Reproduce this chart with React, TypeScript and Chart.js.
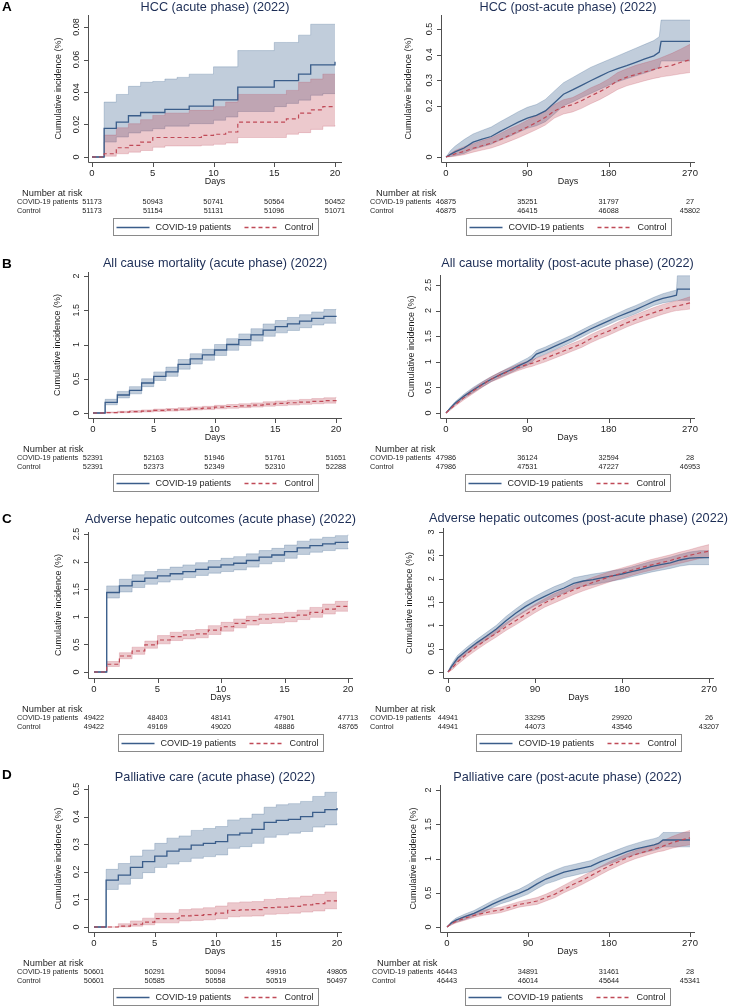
import React, { useEffect, useRef } from "react";
import { Chart, registerables } from "chart.js";
Chart.register(...registerables);

// ---------- shared axis values ----------
const ACUTE_DAYS = [0, 1, 2, 3, 4, 5, 6, 7, 8, 9, 10, 11, 12, 13, 14, 15, 16, 17, 18, 19, 20];
const ACUTE_X_TICKS = [0, 5, 10, 15, 20];
const POST_X_TICKS = [0, 90, 180, 270];

// ---------- A: HCC ----------
const HCC_AC_COVID = [0, 0.0176, 0.0215, 0.0254, 0.0274, 0.0274, 0.0293, 0.0293, 0.0313, 0.0313, 0.0352, 0.0352, 0.043, 0.043, 0.043, 0.047, 0.047, 0.051, 0.0567, 0.0567, 0.0586];
const HCC_AC_COVID_HI = [0, 0.0338, 0.0385, 0.0435, 0.046, 0.0465, 0.048, 0.049, 0.051, 0.051, 0.0555, 0.0555, 0.0655, 0.0655, 0.0655, 0.0705, 0.0705, 0.075, 0.0817, 0.0817, 0.0817];
const HCC_AC_COVID_LO = [0, 0.0092, 0.0123, 0.0148, 0.016, 0.0174, 0.019, 0.019, 0.0205, 0.0205, 0.0226, 0.0246, 0.028, 0.028, 0.028, 0.031, 0.033, 0.035, 0.038, 0.039, 0.039];
const HCC_AC_CTRL = [0, 0.002, 0.0057, 0.0072, 0.0092, 0.012, 0.012, 0.012, 0.012, 0.0133, 0.014, 0.0154, 0.0215, 0.0215, 0.0215, 0.0215, 0.0235, 0.027, 0.029, 0.031, 0.031];
const HCC_AC_CTRL_HI = [0, 0.0135, 0.018, 0.0205, 0.023, 0.0256, 0.027, 0.027, 0.0287, 0.0287, 0.031, 0.0338, 0.0385, 0.0385, 0.0385, 0.0385, 0.041, 0.046, 0.048, 0.051, 0.051];
const HCC_AC_CTRL_LO = [0, 0.0005, 0.002, 0.003, 0.004, 0.006, 0.0068, 0.0068, 0.0068, 0.0072, 0.0078, 0.0086, 0.012, 0.012, 0.012, 0.012, 0.014, 0.015, 0.017, 0.019, 0.0195];
const HCC_AC_Y_TICKS = [0, 0.02, 0.04, 0.06, 0.08];
const HCC_AC_RISK_COVID = [51173, 50943, 50741, 50564, 50452];
const HCC_AC_RISK_CTRL = [51173, 51154, 51131, 51096, 51071];

const HCC_PA_DAYS = [0, 5, 10, 20, 30, 40, 50, 60, 70, 80, 90, 100, 110, 120, 130, 140, 150, 160, 170, 180, 190, 200, 210, 220, 230, 236, 238, 250, 260, 270];
const HCC_PA_COVID = [0, 0.01, 0.02, 0.035, 0.058, 0.07, 0.08, 0.1, 0.118, 0.136, 0.152, 0.163, 0.18, 0.212, 0.245, 0.262, 0.28, 0.298, 0.315, 0.332, 0.345, 0.357, 0.37, 0.383, 0.395, 0.41, 0.452, 0.452, 0.452, 0.452];
const HCC_PA_COVID_HI = [0, 0.025, 0.042, 0.068, 0.09, 0.104, 0.117, 0.138, 0.157, 0.177, 0.194, 0.205, 0.225, 0.258, 0.29, 0.31, 0.33, 0.35, 0.365, 0.38, 0.395, 0.41, 0.425, 0.44, 0.455, 0.47, 0.535, 0.535, 0.535, 0.535];
const HCC_PA_COVID_LO = [0, 0.002, 0.006, 0.014, 0.03, 0.04, 0.05, 0.066, 0.08, 0.096, 0.112, 0.122, 0.138, 0.168, 0.2, 0.215, 0.232, 0.248, 0.264, 0.28, 0.294, 0.306, 0.317, 0.328, 0.34, 0.35, 0.375, 0.375, 0.375, 0.375];
const HCC_PA_CTRL = [0, 0.006, 0.012, 0.022, 0.034, 0.044, 0.054, 0.068, 0.084, 0.1, 0.117, 0.135, 0.155, 0.18, 0.196, 0.204, 0.22, 0.238, 0.255, 0.274, 0.298, 0.312, 0.322, 0.332, 0.342, 0.348, 0.35, 0.358, 0.37, 0.38];
const HCC_PA_CTRL_HI = [0, 0.014, 0.025, 0.04, 0.052, 0.064, 0.075, 0.092, 0.11, 0.125, 0.144, 0.162, 0.18, 0.205, 0.224, 0.232, 0.25, 0.27, 0.285, 0.305, 0.33, 0.345, 0.358, 0.368, 0.378, 0.385, 0.388, 0.405, 0.422, 0.44];
const HCC_PA_CTRL_LO = [0, 0.001, 0.003, 0.009, 0.019, 0.027, 0.035, 0.047, 0.061, 0.075, 0.091, 0.107, 0.125, 0.152, 0.168, 0.176, 0.19, 0.208, 0.224, 0.243, 0.264, 0.278, 0.288, 0.298, 0.307, 0.311, 0.313, 0.319, 0.325, 0.33];
const HCC_PA_Y_TICKS = [0, 0.2, 0.3, 0.4, 0.5];
const HCC_PA_RISK_COVID = [46875, 35251, 31797, 27];
const HCC_PA_RISK_CTRL = [46875, 46415, 46088, 45802];

// ---------- B: all cause mortality ----------
const MORT_AC_COVID = [0, 0.156, 0.263, 0.33, 0.438, 0.535, 0.6, 0.71, 0.79, 0.85, 0.92, 1.0, 1.07, 1.14, 1.21, 1.26, 1.3, 1.34, 1.38, 1.41, 1.42];
const MORT_AC_COVID_HI = [0, 0.2, 0.315, 0.385, 0.5, 0.6, 0.67, 0.78, 0.865, 0.93, 1.0, 1.085, 1.155, 1.23, 1.3, 1.35, 1.395, 1.435, 1.475, 1.51, 1.52];
const MORT_AC_COVID_LO = [0, 0.12, 0.22, 0.28, 0.385, 0.475, 0.535, 0.64, 0.715, 0.77, 0.84, 0.915, 0.985, 1.05, 1.12, 1.17, 1.205, 1.245, 1.285, 1.31, 1.32];
const MORT_AC_CTRL = [0, 0.005, 0.012, 0.02, 0.028, 0.038, 0.045, 0.055, 0.065, 0.072, 0.085, 0.095, 0.105, 0.115, 0.13, 0.14, 0.15, 0.16, 0.17, 0.18, 0.19];
const MORT_AC_CTRL_HI = [0, 0.015, 0.025, 0.035, 0.045, 0.057, 0.065, 0.077, 0.089, 0.097, 0.112, 0.124, 0.135, 0.147, 0.164, 0.175, 0.187, 0.198, 0.21, 0.222, 0.235];
const MORT_AC_CTRL_LO = [0, 0.001, 0.004, 0.009, 0.015, 0.022, 0.028, 0.036, 0.044, 0.05, 0.061, 0.069, 0.078, 0.086, 0.099, 0.108, 0.117, 0.126, 0.135, 0.144, 0.153];
const MORT_AC_Y_TICKS = [0, 0.5, 1, 1.5, 2];
const MORT_AC_RISK_COVID = [52391, 52163, 51946, 51761, 51651];
const MORT_AC_RISK_CTRL = [52391, 52373, 52349, 52310, 52288];

const MORT_PA_DAYS = [0, 5, 10, 20, 30, 40, 50, 60, 70, 80, 90, 95, 100, 110, 120, 130, 140, 150, 160, 170, 180, 190, 200, 210, 220, 230, 240, 250, 255, 256, 270];
const MORT_PA_COVID = [0, 0.1, 0.19, 0.33, 0.45, 0.56, 0.66, 0.75, 0.83, 0.92, 1.0, 1.06, 1.15, 1.22, 1.3, 1.38, 1.46, 1.55, 1.64, 1.72, 1.8, 1.88, 1.95, 2.02, 2.1, 2.18, 2.24, 2.28, 2.3, 2.42, 2.42];
const MORT_PA_COVID_HI = [0, 0.12, 0.22, 0.37, 0.5, 0.61, 0.71, 0.8, 0.89, 0.98, 1.07, 1.13, 1.22, 1.29, 1.37, 1.45, 1.53, 1.62, 1.71, 1.79, 1.87, 1.95, 2.03, 2.1, 2.18, 2.26, 2.33, 2.38, 2.4, 2.68, 2.68];
const MORT_PA_COVID_LO = [0, 0.08, 0.16, 0.29, 0.4, 0.51, 0.61, 0.7, 0.77, 0.86, 0.93, 0.99, 1.08, 1.15, 1.23, 1.31, 1.39, 1.48, 1.57, 1.65, 1.73, 1.81, 1.87, 1.94, 2.02, 2.1, 2.15, 2.18, 2.2, 2.2, 2.2];
const MORT_PA_CTRL = [0, 0.08, 0.16, 0.3, 0.43, 0.55, 0.66, 0.74, 0.82, 0.89, 0.95, 0.97, 1.0, 1.07, 1.14, 1.21, 1.28, 1.35, 1.45, 1.53, 1.6, 1.68, 1.76, 1.83, 1.9, 1.96, 2.02, 2.07, 2.09, 2.09, 2.15];
const MORT_PA_CTRL_HI = [0, 0.1, 0.19, 0.34, 0.48, 0.6, 0.71, 0.8, 0.88, 0.95, 1.01, 1.04, 1.07, 1.14, 1.22, 1.29, 1.36, 1.43, 1.53, 1.61, 1.68, 1.77, 1.85, 1.92, 1.99, 2.06, 2.12, 2.17, 2.19, 2.19, 2.27];
const MORT_PA_CTRL_LO = [0, 0.06, 0.13, 0.26, 0.38, 0.5, 0.61, 0.68, 0.76, 0.83, 0.89, 0.91, 0.94, 1.0, 1.07, 1.14, 1.21, 1.28, 1.37, 1.45, 1.52, 1.6, 1.68, 1.75, 1.81, 1.87, 1.93, 1.98, 2.0, 2.0, 2.03];
const MORT_PA_Y_TICKS = [0, 0.5, 1, 1.5, 2, 2.5];
const MORT_PA_RISK_COVID = [47986, 36124, 32594, 28];
const MORT_PA_RISK_CTRL = [47986, 47531, 47227, 46953];

// ---------- C: adverse hepatic outcomes ----------
const HEP_AC_COVID = [0, 1.44, 1.56, 1.64, 1.7, 1.74, 1.78, 1.82, 1.86, 1.9, 1.94, 1.97, 2.02, 2.08, 2.12, 2.18, 2.25, 2.29, 2.32, 2.35, 2.37];
const HEP_AC_COVID_HI = [0, 1.56, 1.68, 1.76, 1.82, 1.86, 1.9, 1.94, 1.98, 2.02, 2.06, 2.09, 2.14, 2.2, 2.24, 2.3, 2.37, 2.41, 2.44, 2.47, 2.49];
const HEP_AC_COVID_LO = [0, 1.34, 1.45, 1.53, 1.59, 1.63, 1.67, 1.71, 1.75, 1.79, 1.82, 1.85, 1.9, 1.96, 2.0, 2.06, 2.13, 2.17, 2.2, 2.23, 2.25];
const HEP_AC_CTRL = [0, 0.14, 0.29, 0.38, 0.49, 0.58, 0.64, 0.67, 0.69, 0.76, 0.82, 0.88, 0.93, 0.96, 0.97, 0.99, 1.03, 1.08, 1.14, 1.19, 1.19];
const HEP_AC_CTRL_HI = [0, 0.19, 0.35, 0.45, 0.56, 0.66, 0.72, 0.75, 0.77, 0.84, 0.9, 0.96, 1.01, 1.05, 1.06, 1.08, 1.12, 1.17, 1.23, 1.28, 1.29];
const HEP_AC_CTRL_LO = [0, 0.1, 0.24, 0.32, 0.43, 0.51, 0.57, 0.6, 0.62, 0.68, 0.74, 0.8, 0.85, 0.88, 0.89, 0.91, 0.95, 0.99, 1.05, 1.1, 1.1];
const HEP_AC_Y_TICKS = [0, 0.5, 1, 1.5, 2, 2.5];
const HEP_AC_RISK_COVID = [49422, 48403, 48141, 47901, 47713];
const HEP_AC_RISK_CTRL = [49422, 49169, 49020, 48886, 48765];

const HEP_PA_DAYS = [0, 3, 5, 10, 20, 30, 40, 50, 60, 70, 80, 90, 100, 110, 120, 130, 140, 150, 160, 170, 180, 190, 200, 210, 220, 230, 240, 250, 260, 270];
const HEP_PA_COVID = [0, 0.1, 0.16, 0.3, 0.47, 0.63, 0.77, 0.92, 1.1, 1.26, 1.4, 1.52, 1.62, 1.72, 1.8, 1.9, 1.95, 1.98, 2.02, 2.06, 2.1, 2.15, 2.2, 2.26, 2.3, 2.34, 2.4, 2.44, 2.45, 2.45];
const HEP_PA_COVID_HI = [0, 0.14, 0.21, 0.36, 0.54, 0.7, 0.85, 1.0, 1.19, 1.35, 1.5, 1.62, 1.73, 1.83, 1.91, 2.02, 2.06, 2.1, 2.13, 2.17, 2.2, 2.25, 2.31, 2.37, 2.41, 2.46, 2.52, 2.57, 2.6, 2.6];
const HEP_PA_COVID_LO = [0, 0.06, 0.11, 0.24, 0.4, 0.56, 0.69, 0.84, 1.01, 1.17, 1.3, 1.42, 1.51, 1.61, 1.69, 1.78, 1.84, 1.87, 1.91, 1.95, 1.99, 2.04, 2.09, 2.14, 2.18, 2.22, 2.27, 2.3, 2.3, 2.3];
const HEP_PA_CTRL = [0, 0.06, 0.1, 0.22, 0.4, 0.55, 0.7, 0.83, 0.97, 1.1, 1.23, 1.36, 1.48, 1.58, 1.67, 1.76, 1.84, 1.92, 1.99, 2.06, 2.12, 2.18, 2.24, 2.29, 2.34, 2.39, 2.45, 2.5, 2.55, 2.59];
const HEP_PA_CTRL_HI = [0, 0.09, 0.14, 0.28, 0.47, 0.62, 0.78, 0.91, 1.05, 1.19, 1.32, 1.45, 1.57, 1.68, 1.77, 1.86, 1.95, 2.03, 2.1, 2.17, 2.23, 2.29, 2.35, 2.41, 2.46, 2.51, 2.57, 2.62, 2.68, 2.73];
const HEP_PA_CTRL_LO = [0, 0.03, 0.06, 0.16, 0.33, 0.48, 0.62, 0.75, 0.89, 1.01, 1.14, 1.27, 1.39, 1.48, 1.57, 1.66, 1.74, 1.81, 1.88, 1.95, 2.01, 2.07, 2.13, 2.18, 2.23, 2.28, 2.33, 2.38, 2.43, 2.46];
const HEP_PA_Y_TICKS = [0, 0.5, 1, 1.5, 2, 2.5, 3];
const HEP_PA_RISK_COVID = [44941, 33295, 29920, 26];
const HEP_PA_RISK_CTRL = [44941, 44073, 43546, 43207];

// ---------- D: palliative care ----------
const PAL_AC_COVID = [0, 0.17, 0.188, 0.216, 0.237, 0.257, 0.275, 0.282, 0.297, 0.303, 0.309, 0.334, 0.34, 0.354, 0.379, 0.386, 0.39, 0.4, 0.415, 0.425, 0.431];
const PAL_AC_COVID_HI = [0, 0.209, 0.23, 0.257, 0.279, 0.303, 0.322, 0.33, 0.35, 0.357, 0.364, 0.388, 0.394, 0.409, 0.434, 0.443, 0.447, 0.455, 0.473, 0.488, 0.49];
const PAL_AC_COVID_LO = [0, 0.136, 0.155, 0.176, 0.197, 0.216, 0.228, 0.237, 0.249, 0.255, 0.261, 0.285, 0.291, 0.303, 0.325, 0.334, 0.34, 0.346, 0.362, 0.37, 0.376];
const PAL_AC_CTRL = [0, 0, 0.003, 0.01, 0.018, 0.03, 0.03, 0.04, 0.042, 0.045, 0.05, 0.06, 0.062, 0.063, 0.07, 0.072, 0.075, 0.08, 0.085, 0.095, 0.095];
const PAL_AC_CTRL_HI = [0, 0, 0.012, 0.022, 0.032, 0.05, 0.05, 0.063, 0.066, 0.07, 0.076, 0.088, 0.091, 0.092, 0.1, 0.103, 0.106, 0.112, 0.118, 0.127, 0.127];
const PAL_AC_CTRL_LO = [0, 0, 0, 0.003, 0.008, 0.015, 0.015, 0.022, 0.024, 0.026, 0.03, 0.037, 0.039, 0.04, 0.046, 0.048, 0.05, 0.054, 0.058, 0.066, 0.066];
const PAL_AC_Y_TICKS = [0, 0.1, 0.2, 0.3, 0.4, 0.5];
const PAL_AC_RISK_COVID = [50601, 50291, 50094, 49916, 49805];
const PAL_AC_RISK_CTRL = [50601, 50585, 50558, 50519, 50497];

const PAL_PA_DAYS = [0, 5, 10, 20, 30, 40, 50, 60, 70, 80, 90, 100, 110, 120, 130, 140, 150, 160, 170, 180, 190, 200, 210, 220, 230, 235, 240, 250, 260, 270];
const PAL_PA_COVID = [0, 0.06, 0.1, 0.15, 0.2, 0.26, 0.33, 0.39, 0.44, 0.49, 0.55, 0.63, 0.7, 0.75, 0.8, 0.83, 0.86, 0.89, 0.95, 1.0, 1.05, 1.1, 1.14, 1.17, 1.2, 1.22, 1.27, 1.27, 1.27, 1.27];
const PAL_PA_COVID_HI = [0, 0.08, 0.13, 0.19, 0.24, 0.31, 0.38, 0.44, 0.5, 0.55, 0.62, 0.7, 0.77, 0.83, 0.88, 0.91, 0.94, 0.97, 1.03, 1.08, 1.13, 1.18, 1.22, 1.26, 1.29, 1.31, 1.38, 1.38, 1.38, 1.38];
const PAL_PA_COVID_LO = [0, 0.04, 0.07, 0.11, 0.16, 0.21, 0.28, 0.34, 0.38, 0.43, 0.48, 0.56, 0.63, 0.67, 0.72, 0.75, 0.78, 0.81, 0.87, 0.92, 0.97, 1.02, 1.06, 1.09, 1.12, 1.14, 1.17, 1.17, 1.17, 1.17];
const PAL_PA_CTRL = [0, 0.05, 0.08, 0.13, 0.17, 0.2, 0.23, 0.25, 0.29, 0.33, 0.35, 0.38, 0.43, 0.48, 0.55, 0.62, 0.68, 0.75, 0.82, 0.89, 0.95, 1.01, 1.06, 1.1, 1.14, 1.16, 1.18, 1.23, 1.27, 1.3];
const PAL_PA_CTRL_HI = [0, 0.07, 0.1, 0.16, 0.2, 0.24, 0.27, 0.29, 0.33, 0.37, 0.4, 0.43, 0.48, 0.54, 0.61, 0.68, 0.74, 0.81, 0.88, 0.95, 1.01, 1.07, 1.12, 1.16, 1.2, 1.23, 1.26, 1.32, 1.37, 1.41];
const PAL_PA_CTRL_LO = [0, 0.03, 0.06, 0.1, 0.14, 0.17, 0.19, 0.21, 0.25, 0.29, 0.31, 0.33, 0.38, 0.43, 0.5, 0.56, 0.62, 0.69, 0.76, 0.83, 0.89, 0.95, 1.0, 1.04, 1.08, 1.1, 1.11, 1.15, 1.18, 1.2];
const PAL_PA_Y_TICKS = [0, 0.5, 1, 1.5, 2];
const PAL_PA_RISK_COVID = [46443, 34891, 31461, 28];
const PAL_PA_RISK_CTRL = [46443, 46014, 45644, 45341];

// ---------- styles ----------
const FONT = '"Liberation Sans", Arial, sans-serif';
const BLUE = "#3a5d8a";
const RED = "#c04a57";
const BLUE_BAND = "rgba(50, 90, 135, 0.3)";
const RED_BAND = "rgba(185, 60, 75, 0.28)";
const BLUE_EDGE = "rgba(50, 90, 135, 0.35)";
const RED_EDGE = "rgba(185, 60, 75, 0.3)";
const AXIS = "#505050";
const TEXT = "#1e1e1e";
const TITLE = "#1c2d55";

const ROW_TOP = [0, 245, 495, 755];
const ROW_H = [245, 250, 260, 251];
const COL_W = 367;

type Lay = { l: number; r: number; t: number; b: number; x0: number; x1: number; y0: number; y1: number; titleY: number; yTitleX: number; narX: number; rowX: number };
type Cfg = {
  row: number; col: number; title: string; stepped: boolean;
  days: number[]; covid: number[]; covidHi: number[]; covidLo: number[]; ctrl: number[]; ctrlHi: number[]; ctrlLo: number[];
  xTicks: number[]; yTicks: number[]; riskCovid: number[]; riskCtrl: number[]; lay: Lay;
};

const PANELS: Cfg[] = [
  { row: 0, col: 0, title: "HCC (acute phase) (2022)", stepped: true, days: ACUTE_DAYS,
    covid: HCC_AC_COVID, covidHi: HCC_AC_COVID_HI, covidLo: HCC_AC_COVID_LO, ctrl: HCC_AC_CTRL, ctrlHi: HCC_AC_CTRL_HI, ctrlLo: HCC_AC_CTRL_LO,
    xTicks: ACUTE_X_TICKS, yTicks: HCC_AC_Y_TICKS, riskCovid: HCC_AC_RISK_COVID, riskCtrl: HCC_AC_RISK_CTRL,
    lay: { l: 88, r: 342, t: 15, b: 162, x0: 92, x1: 335, y0: 157, y1: 27, titleY: 7, yTitleX: 59, narX: 22, rowX: 17 } },
  { row: 0, col: 1, title: "HCC (post-acute phase) (2022)", stepped: false, days: HCC_PA_DAYS,
    covid: HCC_PA_COVID, covidHi: HCC_PA_COVID_HI, covidLo: HCC_PA_COVID_LO, ctrl: HCC_PA_CTRL, ctrlHi: HCC_PA_CTRL_HI, ctrlLo: HCC_PA_CTRL_LO,
    xTicks: POST_X_TICKS, yTicks: HCC_PA_Y_TICKS, riskCovid: HCC_PA_RISK_COVID, riskCtrl: HCC_PA_RISK_CTRL,
    lay: { l: 441, r: 695, t: 15, b: 162, x0: 446, x1: 690, y0: 157, y1: 29, titleY: 7, yTitleX: 409, narX: 376, rowX: 370 } },
  { row: 1, col: 0, title: "All cause mortality (acute phase) (2022)", stepped: true, days: ACUTE_DAYS,
    covid: MORT_AC_COVID, covidHi: MORT_AC_COVID_HI, covidLo: MORT_AC_COVID_LO, ctrl: MORT_AC_CTRL, ctrlHi: MORT_AC_CTRL_HI, ctrlLo: MORT_AC_CTRL_LO,
    xTicks: ACUTE_X_TICKS, yTicks: MORT_AC_Y_TICKS, riskCovid: MORT_AC_RISK_COVID, riskCtrl: MORT_AC_RISK_CTRL,
    lay: { l: 88, r: 342, t: 272, b: 418, x0: 93, x1: 336, y0: 413, y1: 276, titleY: 263, yTitleX: 58, narX: 23, rowX: 17 } },
  { row: 1, col: 1, title: "All cause mortality (post-acute phase) (2022)", stepped: false, days: MORT_PA_DAYS,
    covid: MORT_PA_COVID, covidHi: MORT_PA_COVID_HI, covidLo: MORT_PA_COVID_LO, ctrl: MORT_PA_CTRL, ctrlHi: MORT_PA_CTRL_HI, ctrlLo: MORT_PA_CTRL_LO,
    xTicks: POST_X_TICKS, yTicks: MORT_PA_Y_TICKS, riskCovid: MORT_PA_RISK_COVID, riskCtrl: MORT_PA_RISK_CTRL,
    lay: { l: 440, r: 695, t: 275, b: 418, x0: 446, x1: 690, y0: 413, y1: 285, titleY: 263, yTitleX: 412, narX: 375, rowX: 370 } },
  { row: 2, col: 0, title: "Adverse hepatic outcomes (acute phase) (2022)", stepped: true, days: ACUTE_DAYS,
    covid: HEP_AC_COVID, covidHi: HEP_AC_COVID_HI, covidLo: HEP_AC_COVID_LO, ctrl: HEP_AC_CTRL, ctrlHi: HEP_AC_CTRL_HI, ctrlLo: HEP_AC_CTRL_LO,
    xTicks: ACUTE_X_TICKS, yTicks: HEP_AC_Y_TICKS, riskCovid: HEP_AC_RISK_COVID, riskCtrl: HEP_AC_RISK_CTRL,
    lay: { l: 88, r: 353, t: 532, b: 678, x0: 94, x1: 348, y0: 672, y1: 534, titleY: 519, yTitleX: 59, narX: 22, rowX: 17 } },
  { row: 2, col: 1, title: "Adverse hepatic outcomes (post-acute phase) (2022)", stepped: false, days: HEP_PA_DAYS,
    covid: HEP_PA_COVID, covidHi: HEP_PA_COVID_HI, covidLo: HEP_PA_COVID_LO, ctrl: HEP_PA_CTRL, ctrlHi: HEP_PA_CTRL_HI, ctrlLo: HEP_PA_CTRL_LO,
    xTicks: POST_X_TICKS, yTicks: HEP_PA_Y_TICKS, riskCovid: HEP_PA_RISK_COVID, riskCtrl: HEP_PA_RISK_CTRL,
    lay: { l: 443, r: 714, t: 528, b: 678, x0: 448, x1: 709, y0: 672, y1: 532, titleY: 518, yTitleX: 410, narX: 375, rowX: 370 } },
  { row: 3, col: 0, title: "Palliative care (acute phase) (2022)", stepped: true, days: ACUTE_DAYS,
    covid: PAL_AC_COVID, covidHi: PAL_AC_COVID_HI, covidLo: PAL_AC_COVID_LO, ctrl: PAL_AC_CTRL, ctrlHi: PAL_AC_CTRL_HI, ctrlLo: PAL_AC_CTRL_LO,
    xTicks: ACUTE_X_TICKS, yTicks: PAL_AC_Y_TICKS, riskCovid: PAL_AC_RISK_COVID, riskCtrl: PAL_AC_RISK_CTRL,
    lay: { l: 88, r: 342, t: 785, b: 932, x0: 94, x1: 337, y0: 927, y1: 789, titleY: 777, yTitleX: 59, narX: 23, rowX: 17 } },
  { row: 3, col: 1, title: "Palliative care (post-acute phase) (2022)", stepped: false, days: PAL_PA_DAYS,
    covid: PAL_PA_COVID, covidHi: PAL_PA_COVID_HI, covidLo: PAL_PA_COVID_LO, ctrl: PAL_PA_CTRL, ctrlHi: PAL_PA_CTRL_HI, ctrlLo: PAL_PA_CTRL_LO,
    xTicks: POST_X_TICKS, yTicks: PAL_PA_Y_TICKS, riskCovid: PAL_PA_RISK_COVID, riskCtrl: PAL_PA_RISK_CTRL,
    lay: { l: 440, r: 695, t: 785, b: 932, x0: 447, x1: 690, y0: 927, y1: 790, titleY: 777, yTitleX: 414, narX: 377, rowX: 372 } },
];

const LETTERS = [
  { text: "A", y: 7 },
  { text: "B", y: 264 },
  { text: "C", y: 519 },
  { text: "D", y: 775 },
];

const pts = (xs: number[], ys: number[]) => xs.map((x, i) => ({ x, y: ys[i] }));
const f = (s: number, w = "normal") => `${w} ${s}px ${FONT}`;

function rotText(ctx: CanvasRenderingContext2D, s: string, x: number, y: number) {
  ctx.save();
  ctx.translate(x, y);
  ctx.rotate(-Math.PI / 2);
  ctx.fillText(s, 0, 0);
  ctx.restore();
}

function decor(cfg: Cfg, ox: number, oy: number) {
  return {
    id: "decor",
    afterDraw(chart: any) {
      const ctx: CanvasRenderingContext2D = chart.ctx;
      const ca = chart.chartArea;
      const xs = chart.scales.x;
      const ys = chart.scales.y;
      const L = cfg.lay;
      const cx = (ca.left + ca.right) / 2;
      ctx.save();
      // axes
      ctx.strokeStyle = AXIS;
      ctx.lineWidth = 1;
      ctx.beginPath();
      ctx.moveTo(ca.left + 0.5, ca.top);
      ctx.lineTo(ca.left + 0.5, ca.bottom + 0.5);
      ctx.lineTo(ca.right, ca.bottom + 0.5);
      for (const v of cfg.xTicks) {
        const px = Math.round(xs.getPixelForValue(v)) + 0.5;
        ctx.moveTo(px, ca.bottom + 0.5);
        ctx.lineTo(px, ca.bottom + 5);
      }
      for (const v of cfg.yTicks) {
        const py = Math.round(ys.getPixelForValue(v)) + 0.5;
        ctx.moveTo(ca.left + 0.5, py);
        ctx.lineTo(ca.left - 4, py);
      }
      ctx.stroke();
      // tick labels
      ctx.fillStyle = TEXT;
      ctx.textAlign = "center";
      ctx.textBaseline = "middle";
      ctx.font = f(9.5);
      for (const v of cfg.xTicks) ctx.fillText(String(v), xs.getPixelForValue(v), ca.bottom + 11);
      ctx.font = f(9);
      for (const v of cfg.yTicks) rotText(ctx, String(v), ca.left - 11, ys.getPixelForValue(v));
      // axis titles
      ctx.font = f(9);
      rotText(ctx, "Cumulative incidence (%)", L.yTitleX - ox, (ca.top + ca.bottom) / 2);
      ctx.fillText("Days", cx, ca.bottom + 20);
      // title
      ctx.fillStyle = TITLE;
      ctx.font = f(12.7);
      ctx.fillText(cfg.title, cx, L.titleY - oy);
      // number at risk
      ctx.fillStyle = TEXT;
      ctx.textAlign = "left";
      ctx.font = f(9.3);
      ctx.fillText("Number at risk", L.narX - ox, ca.bottom + 31);
      ctx.font = f(7.3);
      ctx.fillText("COVID-19 patients", L.rowX - ox, ca.bottom + 40);
      ctx.fillText("Control", L.rowX - ox, ca.bottom + 49);
      ctx.textAlign = "center";
      cfg.xTicks.forEach((v, i) => {
        const px = xs.getPixelForValue(v);
        ctx.fillText(String(cfg.riskCovid[i]), px, ca.bottom + 40);
        ctx.fillText(String(cfg.riskCtrl[i]), px, ca.bottom + 49);
      });
      // legend
      const bw = 205, bh = 17;
      const bx = Math.round(cx - bw / 2) + 0.5;
      const by = Math.round(ca.bottom + 56) + 0.5;
      ctx.strokeStyle = "#8a8a8a";
      ctx.lineWidth = 1;
      ctx.strokeRect(bx, by, bw, bh);
      const my = Math.round(by + bh / 2) + 0.5;
      ctx.strokeStyle = BLUE;
      ctx.lineWidth = 1.3;
      ctx.beginPath();
      ctx.moveTo(bx + 3, my);
      ctx.lineTo(bx + 36, my);
      ctx.stroke();
      ctx.strokeStyle = RED;
      ctx.setLineDash([4, 3]);
      ctx.beginPath();
      ctx.moveTo(bx + 131, my);
      ctx.lineTo(bx + 166, my);
      ctx.stroke();
      ctx.setLineDash([]);
      ctx.fillStyle = TEXT;
      ctx.textAlign = "left";
      ctx.font = f(9);
      ctx.fillText("COVID-19 patients", bx + 42, my);
      ctx.fillText("Control", bx + 171, my);
      ctx.restore();
    },
  };
}

function Panel({ cfg }: { cfg: Cfg }) {
  const ref = useRef<HTMLCanvasElement | null>(null);
  const ox = cfg.col * COL_W;
  const oy = ROW_TOP[cfg.row];
  const W = COL_W;
  const H = ROW_H[cfg.row];
  useEffect(() => {
    const L = cfg.lay;
    const xt = cfg.xTicks, yt = cfg.yTicks;
    const xa = xt[0], xb = xt[xt.length - 1], yb = yt[yt.length - 1];
    const sx = (L.x1 - L.x0) / (xb - xa);
    const sy = (L.y0 - L.y1) / yb;
    const xmin = xa - (L.x0 - L.l) / sx;
    const xmax = xb + (L.r - L.x1) / sx;
    const ymin = -(L.b - L.y0) / sy;
    const ymax = yb + (L.y1 - L.t) / sy;
    const band = { borderWidth: 0.7, pointRadius: 0, stepped: cfg.stepped };
    const chart = new Chart(ref.current as HTMLCanvasElement, {
      type: "line",
      data: {
        datasets: [
          { data: pts(cfg.days, cfg.ctrl), borderColor: RED, borderWidth: 1.2, borderDash: [4, 3], pointRadius: 0, fill: false, stepped: cfg.stepped },
          { data: pts(cfg.days, cfg.covid), borderColor: BLUE, borderWidth: 1.3, pointRadius: 0, fill: false, stepped: cfg.stepped },
          { ...band, data: pts(cfg.days, cfg.ctrlLo), borderColor: RED_EDGE, fill: false },
          { ...band, data: pts(cfg.days, cfg.ctrlHi), borderColor: RED_EDGE, fill: "-1", backgroundColor: RED_BAND },
          { ...band, data: pts(cfg.days, cfg.covidLo), borderColor: BLUE_EDGE, fill: false },
          { ...band, data: pts(cfg.days, cfg.covidHi), borderColor: BLUE_EDGE, fill: "-1", backgroundColor: BLUE_BAND },
        ] as any,
      },
      options: {
        animation: false,
        responsive: false,
        maintainAspectRatio: false,
        devicePixelRatio: 1,
        events: [],
        layout: { padding: { left: L.l - ox, right: ox + W - L.r, top: L.t - oy, bottom: oy + H - L.b } },
        scales: {
          x: { type: "linear", display: false, min: xmin, max: xmax },
          y: { type: "linear", display: false, min: ymin, max: ymax },
        },
        plugins: { legend: { display: false }, title: { display: false }, tooltip: { enabled: false } },
        elements: { point: { radius: 0 }, line: { tension: 0 } },
      } as any,
      plugins: [decor(cfg, ox, oy) as any],
    });
    return () => chart.destroy();
  }, []);
  return (
    <canvas
      ref={ref}
      width={W}
      height={H}
      style={{ position: "absolute", left: ox, top: oy, width: W, height: H }}
    />
  );
}

export default function App() {
  return (
    <div style={{ position: "absolute", left: 0, top: 0, width: 734, height: 1006, background: "#fff", overflow: "hidden" }}>
      {PANELS.map((p, i) => (
        <Panel key={i} cfg={p} />
      ))}
      {LETTERS.map((l) => (
        <div
          key={l.text}
          style={{ position: "absolute", left: 2, top: l.y - 8, height: 16, lineHeight: "16px", font: `bold 13.5px ${FONT}`, color: "#000" }}
        >
          {l.text}
        </div>
      ))}
    </div>
  );
}
